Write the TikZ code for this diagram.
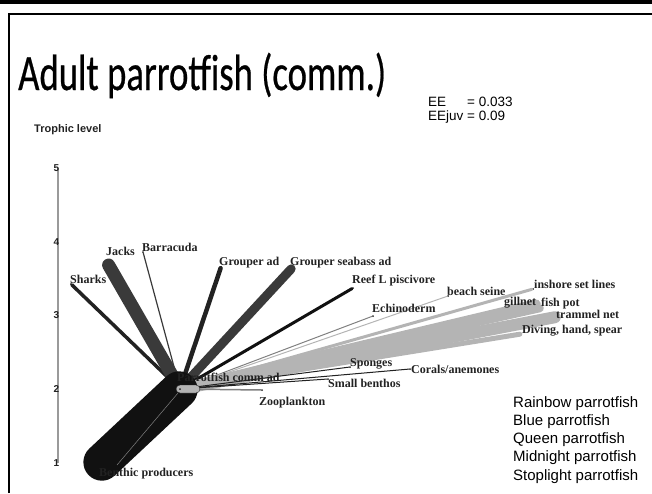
\documentclass[tikz,border=0pt]{standalone}
\usepackage{fontspec}
\setmainfont{Liberation Serif}
\newfontfamily\arialfont{Liberation Sans}
\newfontfamily\titrefont[FakeBold=0.6]{Carlito}
\usetikzlibrary{positioning}
\definecolor{trait}{HTML}{222222}
\definecolor{predateur}{HTML}{3A3A3A}
\definecolor{noir}{HTML}{111111}
\definecolor{peche}{HTML}{B4B4B4}
\definecolor{axe}{HTML}{9A9A9A}
\tikzset{
  groupe/.style={circle, fill=trait, inner sep=0pt, minimum size=2pt},
  nom/.style={font=\bfseries\fontsize{12}{12}\selectfont, text=trait,
    inner sep=0pt, anchor=west},
  legende/.style={font=\arialfont\fontsize{15}{18.3}\selectfont, align=left,
    inner sep=0pt, anchor=north west},
  graduation/.style={font=\arialfont\bfseries\fontsize{10}{10}\selectfont,
    text=trait, inner sep=0pt, anchor=east},
  flux/.style={line cap=round, draw=predateur},
  fluxpeche/.style={line cap=round, draw=peche},
  fluxproie/.style={line cap=round, draw=trait, line width=1pt}
}

\begin{document}
\begin{tikzpicture}[x=1pt, y=-1pt]
  \useasboundingbox (0,0) rectangle (652,493);

  % cadre de la diapositive
  \fill (0,0) rectangle (652,3.5);
  \draw[line width=2.5pt] (9,493) |- (652,14);

  \node[font=\titrefont\fontsize{51}{51}\selectfont, anchor=base west, inner sep=0pt]
    (titre) at (18,90) {\resizebox{368pt}{\height}{Adult parrotfish (comm.)}};
  \node[font=\arialfont\fontsize{13.5}{14.5}\selectfont, anchor=north west, inner sep=0pt]
    (ee) at (428,96) {\begin{tabular}{@{}l@{ }l@{}}EE & = 0.033\\EEjuv & = 0.09\end{tabular}};

  % axe des niveaux trophiques
  \node[graduation, anchor=west, font=\arialfont\bfseries\fontsize{11}{11}\selectfont]
    (niveau) at (34,130) {Trophic level};
  \draw[axe, line width=1.3pt] (58,168) -- (58,463);
  \foreach \n/\y in {5/168, 4/242, 3/315, 2/389, 1/463}
    \node[graduation] (tl\n) at (59.5,\y) {\n};

  % groupes
  \node[groupe] (parrot) at (180,389) {};
  \node[groupe] (benthic) at (101,463) {};
  \node[groupe] (sharks) at (71,284) {};
  \node[groupe] (jacks) at (108,264) {};
  \node[groupe] (barracuda) at (143,252) {};
  \node[groupe] (grouperad) at (221,267) {};
  \node[groupe] (grouperbass) at (292,268) {};
  \node[groupe] (reefl) at (353,288) {};
  \node[groupe] (echino) at (373,316) {};
  \node[groupe] (zoo) at (262,390) {};
  \node[groupe] (smallben) at (328,379) {};
  \node[groupe] (sponges) at (350,367) {};
  \node[groupe] (corals) at (410,369) {};
  \node[groupe] (beach) at (448,296) {};
  \node[groupe] (inshore) at (533,289) {};
  \node[groupe] (gillnet) at (537,304) {};
  \node[groupe] (fishpot) at (541,308) {};
  \node[groupe] (trammel) at (556,317) {};
  \node[groupe] (diving) at (521,334) {};

  % flux vers les predateurs
  \draw[flux, line width=3.5pt, draw=trait] (sharks) -- (parrot);
  \draw[flux, line width=13pt] (jacks) -- (parrot);
  \draw[flux, line width=1.2pt] (barracuda) -- (parrot);
  \draw[flux, line width=4.5pt, draw=trait] (grouperad) -- (parrot);
  \draw[flux, line width=9pt] (grouperbass) -- (parrot);
  \draw[flux, line width=3pt, draw=noir] (reefl) -- (parrot);
  \draw[flux, line width=1pt, draw=gray] (echino) -- (parrot);

  % flux vers les pecheries
  \draw[fluxpeche, line width=1pt] (beach) -- (parrot);
  \draw[fluxpeche, line width=3pt] (inshore) -- (parrot);
  \draw[fluxpeche, line width=10pt] (gillnet) -- (parrot);
  \draw[fluxpeche, line width=8pt] (fishpot) -- (parrot);
  \draw[fluxpeche, line width=12pt] (trammel) -- (parrot);
  \draw[fluxpeche, line width=5pt] (diving) -- (parrot);

  % flux depuis les proies
  \draw[flux, line width=37pt, draw=noir] (benthic) -- (parrot);
  \draw[gray, line width=0.5pt] ([shift={(16,2)}]benthic.center) -- ([shift={(-2,4)}]parrot.center);
  \draw[fluxproie] (smallben) -- (parrot);
  \draw[fluxproie] (sponges) -- (parrot);
  \draw[fluxproie] (corals) -- (parrot);
  \draw[fluxproie, line width=1.5pt, draw=gray] (zoo) -- (parrot);
  \node[draw=trait, fill=peche, rounded corners=4pt, minimum width=24pt,
    minimum height=8pt, inner sep=0pt] (parrotcase) at (188,389) {};
  \node[groupe] at (parrot) {};

  % noms des groupes
  \node[nom] (nsharks) at (70,279) {Sharks};
  \node[nom] (njacks) at (106,251) {Jacks};
  \node[nom] (nbarracuda) at (142,247) {Barracuda};
  \node[nom] (ngrouperad) at (219,263) {Grouper ad};
  \node[nom] (ngrouperbass) at (290,263) {Grouper seabass ad};
  \node[nom] (nreefl) at (352,281) {Reef L piscivore};
  \node[nom] (nechino) at (372,308) {Echinoderm};
  \node[nom] (nbeach) at (447,291) {beach seine};
  \node[nom] (ninshore) at (534,284) {inshore set lines};
  \node[nom] (ngillnet) at (504,303) {gillnet};
  \node[nom] (nfishpot) at (541,304) {fish pot};
  \node[nom] (ntrammel) at (556,314) {trammel net};
  \node[nom] (ndiving) at (522,331) {Diving, hand, spear};
  \node[nom] (nsponges) at (350,364) {Sponges};
  \node[nom] (ncorals) at (411,369) {Corals/anemones};
  \node[nom] (nsmallben) at (328,383) {Small benthos};
  \node[nom] (nzoo) at (259,403) {Zooplankton};
  \node[nom] (nparrot) at (177,377) {Parrotfish comm ad};
  \node[nom] (nbenthic) at (99,474) {Benthic producers};

  % especes
  \node[legende] (especes) at (513,396) {Rainbow parrotfish\\Blue parrotfish\\Queen parrotfish\\Midnight parrotfish\\Stoplight parrotfish};
\end{tikzpicture}
\end{document}
